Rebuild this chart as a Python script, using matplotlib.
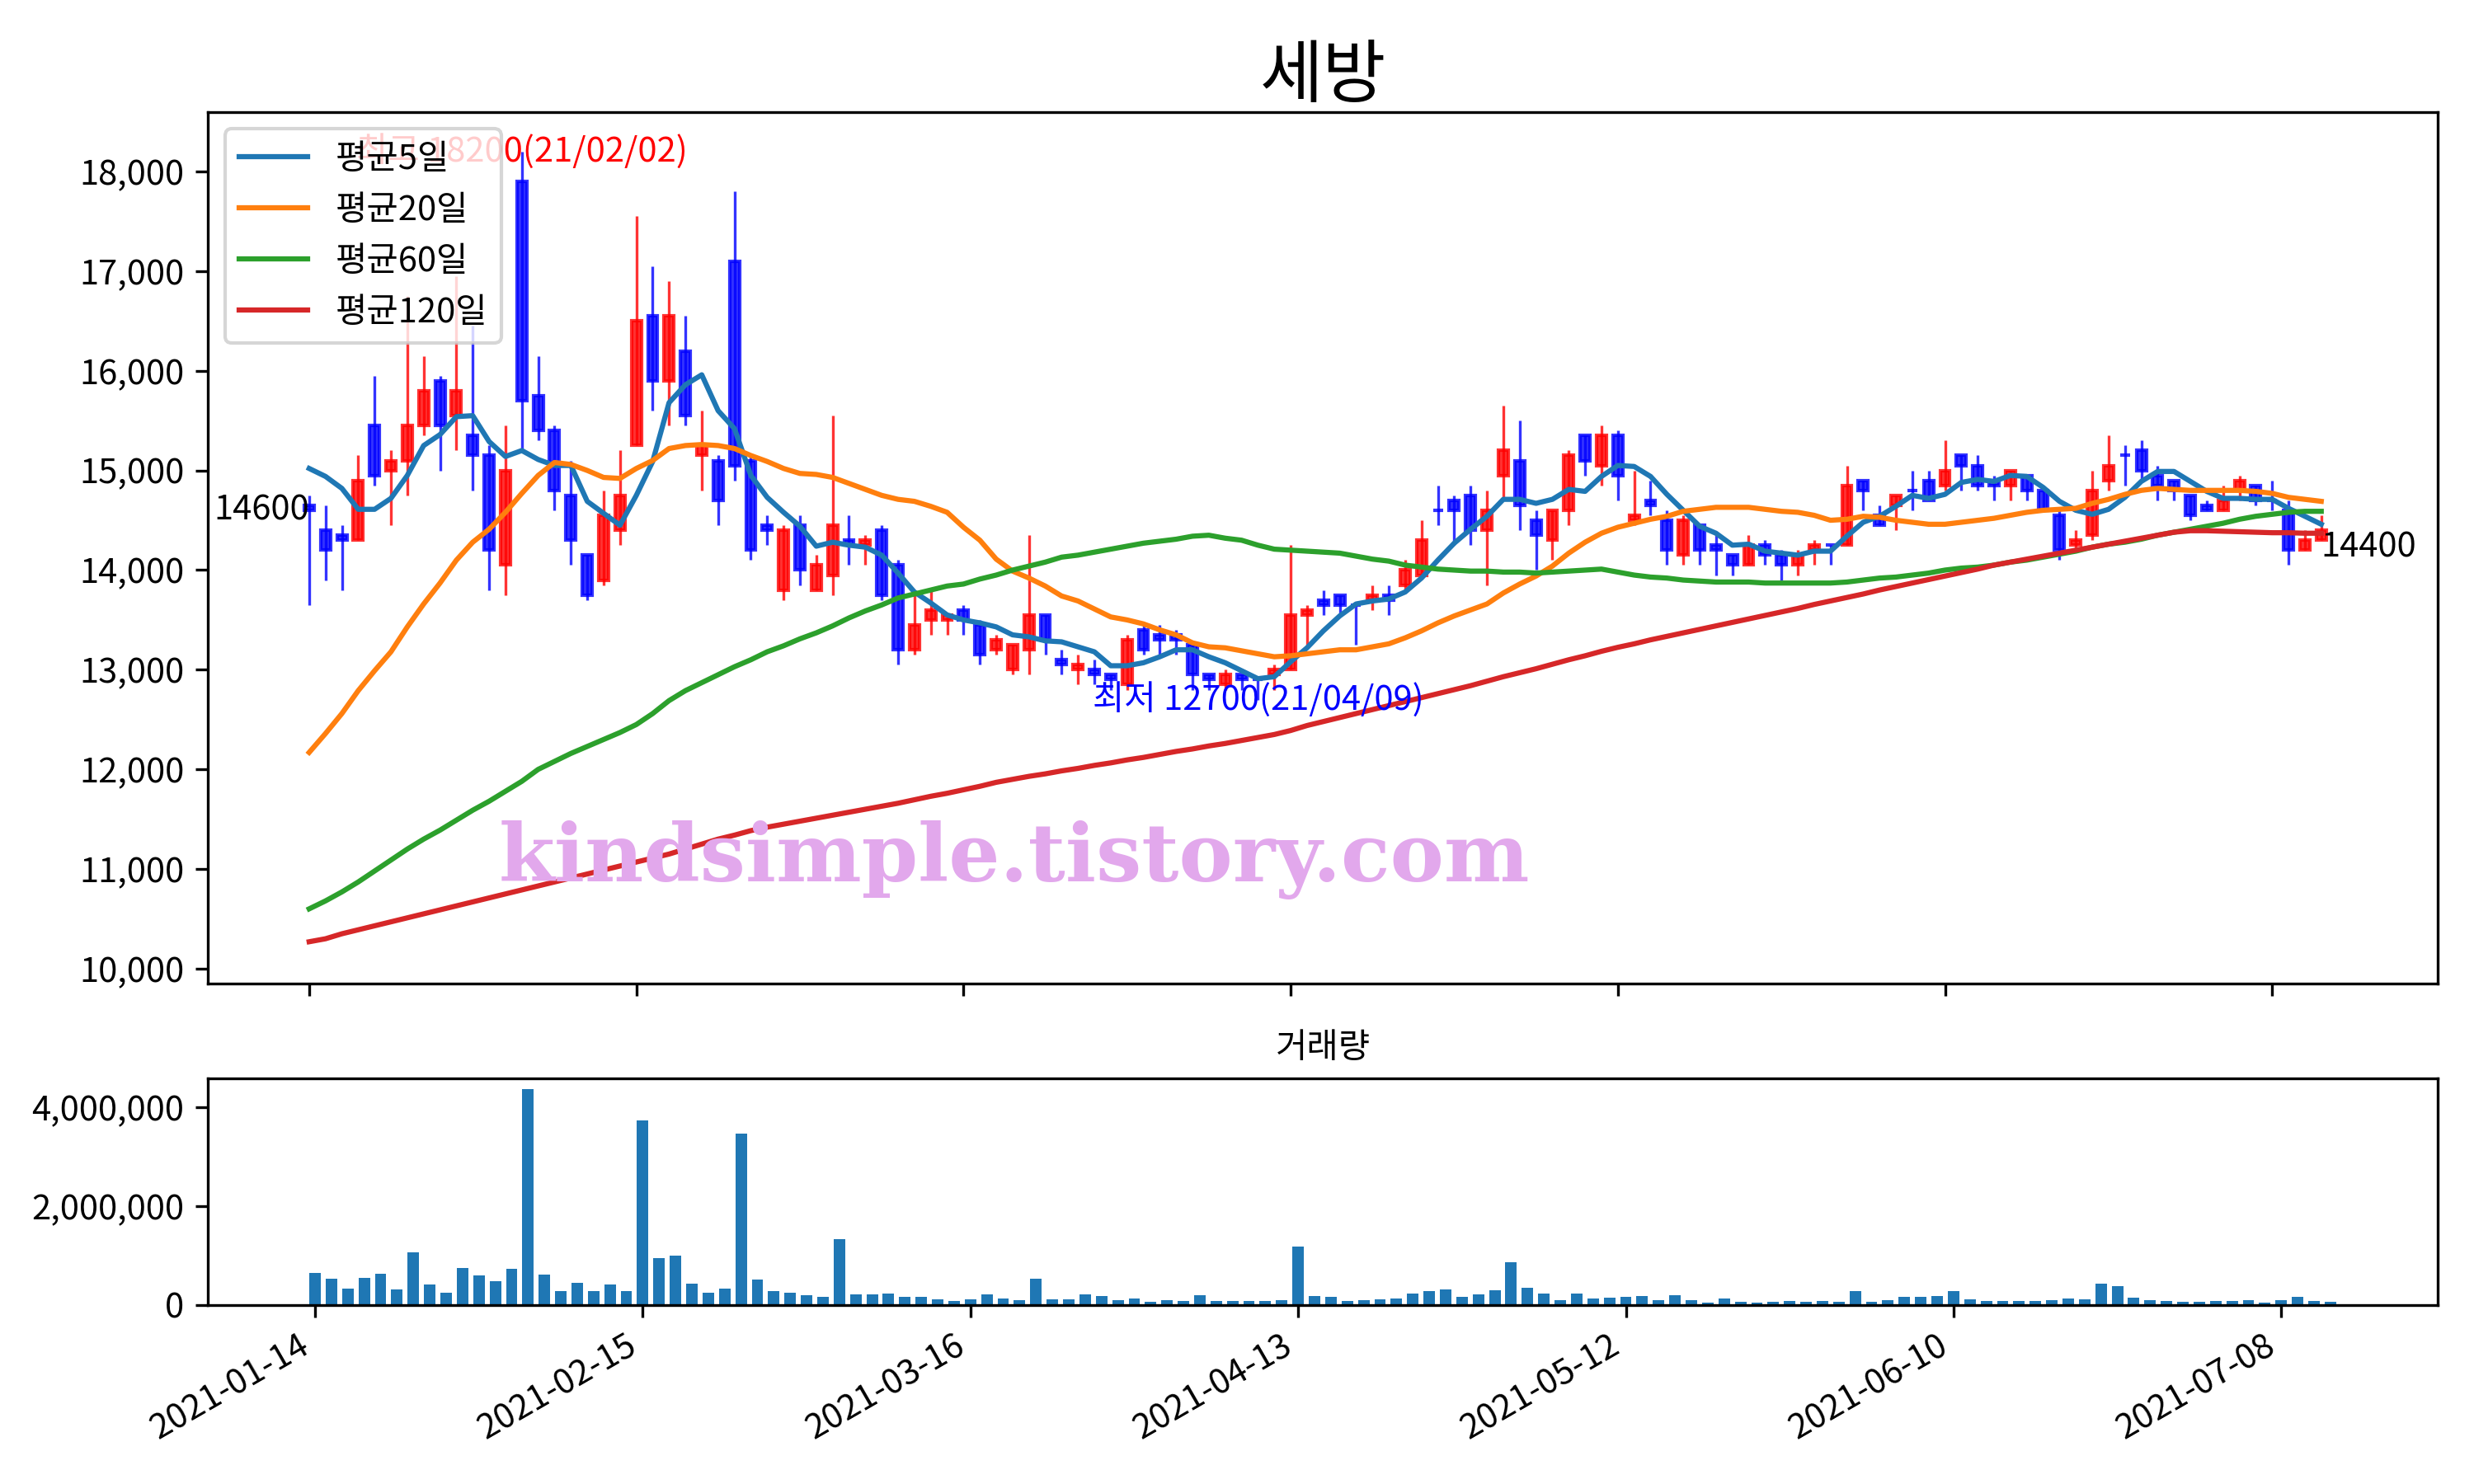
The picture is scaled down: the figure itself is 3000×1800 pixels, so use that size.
import numpy as np
import pandas as pd
import matplotlib
matplotlib.use("Agg")
import matplotlib.pyplot as plt
from matplotlib.ticker import FuncFormatter

plt.rcParams['font.family'] = ['Noto Sans CJK KR', 'DejaVu Sans']
plt.rcParams['axes.unicode_minus'] = False

title = "세방"
start_date = "2021-01-14"
end_date = "2021-07-13"
holidays = ["2021-02-11", "2021-02-12", "2021-03-01", "2021-05-05", "2021-05-19"]

# daily prices
opens = [14650, 14400, 14350, 14300, 15450, 15000, 15100, 15450, 15900, 15550,
         15350, 15150, 14050, 17900, 15750, 15400, 14750, 14150, 13900, 14400,
         15250, 16550, 15900, 16200, 15150, 15100, 17100, 15100, 14450, 13800,
         14450, 13800, 13950, 14300, 14250, 14400, 14050, 13200, 13500, 13500,
         13600, 13450, 13200, 13000, 13200, 13550, 13100, 13000, 13000, 12950,
         12850, 13400, 13350, 13350, 13250, 12950, 12850, 12950, 12900, 12950,
         13000, 13550, 13700, 13750, 13650, 13700, 13750, 13850, 13950, 14600,
         14700, 14750, 14400, 14950, 15100, 14500, 14300, 14600, 15350, 15050,
         15350, 14500, 14700, 14500, 14150, 14450, 14250, 14150, 14050, 14250,
         14150, 14050, 14200, 14250, 14250, 14900, 14550, 14650, 14800, 14900,
         14850, 15150, 15050, 14900, 14850, 14950, 14800, 14550, 14250, 14350,
         14900, 15150, 15200, 14950, 14900, 14750, 14650, 14600, 14800, 14850,
         14700, 14600, 14200, 14300]
highs = [14750, 14650, 14450, 15150, 15950, 15200, 16750, 16150, 15950, 16950,
         16450, 15250, 15450, 18200, 16150, 15450, 15100, 14150, 14800, 15200,
         17550, 17050, 16900, 16550, 15600, 15150, 17800, 15150, 14550, 14450,
         14550, 14150, 15550, 14550, 14350, 14450, 14100, 13800, 13800, 13550,
         13650, 13500, 13350, 13250, 14350, 13550, 13200, 13150, 13100, 12950,
         13350, 13450, 13450, 13400, 13250, 12950, 13000, 12950, 12900, 13050,
         14250, 13650, 13800, 13750, 13650, 13850, 13850, 14100, 14500, 14850,
         14750, 14850, 14800, 15650, 15500, 14600, 14600, 15200, 15350, 15450,
         15400, 15000, 14900, 14600, 14550, 14450, 14350, 14150, 14350, 14300,
         14200, 14200, 14300, 14250, 15050, 14900, 14650, 14750, 15000, 15000,
         15300, 15150, 15150, 14950, 15000, 14950, 14800, 14600, 14400, 15000,
         15350, 15250, 15300, 15050, 14900, 14750, 14700, 14850, 14950, 14850,
         14900, 14700, 14400, 14550]
lows = [13650, 13900, 13800, 14300, 14850, 14450, 14750, 15350, 15000, 15200,
        14800, 13800, 13750, 15200, 15300, 14600, 14050, 13700, 13850, 14250,
        15250, 15600, 15450, 15450, 14800, 14450, 14900, 14100, 14250, 13700,
        13850, 13800, 13750, 14050, 14050, 13700, 13050, 13150, 13350, 13350,
        13350, 13050, 13150, 12950, 12950, 13150, 12950, 12850, 12850, 12800,
        12800, 13150, 13150, 13150, 12800, 12800, 12800, 12800, 12700, 12800,
        13000, 13250, 13550, 13550, 13250, 13600, 13550, 13800, 13950, 14450,
        14250, 14250, 13850, 14700, 14400, 14000, 14100, 14450, 14950, 14850,
        14700, 14450, 14550, 14050, 14050, 14050, 13950, 13950, 14050, 14050,
        13900, 13950, 14050, 14050, 14250, 14600, 14450, 14400, 14600, 14700,
        14800, 14800, 14800, 14700, 14700, 14700, 14600, 14100, 14200, 14300,
        14800, 14850, 14900, 14700, 14700, 14500, 14600, 14600, 14700, 14650,
        14600, 14050, 14200, 14300]
closes = [14600, 14200, 14300, 14900, 14950, 15100, 15450, 15800, 15450, 15800,
          15150, 14200, 15000, 15700, 15400, 14800, 14300, 13750, 14550, 14750,
          16500, 15900, 16550, 15550, 15250, 14700, 15050, 14200, 14400, 14400,
          14000, 14050, 14450, 14250, 14300, 13750, 13200, 13450, 13600, 13550,
          13500, 13150, 13300, 13250, 13550, 13300, 13050, 13050, 12950, 12900,
          13300, 13200, 13300, 13300, 12950, 12900, 12950, 12900, 12900, 13000,
          13550, 13600, 13650, 13650, 13650, 13750, 13700, 14000, 14300, 14600,
          14600, 14400, 14600, 15200, 14650, 14350, 14600, 15150, 15100, 15350,
          14950, 14550, 14650, 14200, 14500, 14200, 14200, 14050, 14250, 14150,
          14050, 14150, 14250, 14250, 14850, 14800, 14450, 14750, 14800, 14700,
          15000, 15050, 14850, 14850, 15000, 14800, 14600, 14200, 14300, 14800,
          15050, 15150, 15000, 14850, 14800, 14550, 14600, 14700, 14900, 14700,
          14700, 14200, 14300, 14400]
volumes = [650000, 530000, 330000, 550000, 630000, 310000, 1060000, 410000, 245000, 750000,
           600000, 480000, 730000, 4370000, 610000, 280000, 450000, 280000, 410000, 280000,
           3740000, 950000, 1000000, 430000, 245000, 330000, 3470000, 510000, 280000, 245000,
           195000, 160000, 1340000, 210000, 210000, 230000, 160000, 160000, 110000, 80000,
           110000, 210000, 130000, 95000, 530000, 110000, 110000, 210000, 180000, 95000,
           130000, 60000, 95000, 80000, 195000, 80000, 80000, 80000, 80000, 95000,
           1180000, 180000, 160000, 80000, 95000, 110000, 130000, 230000, 280000, 310000,
           160000, 210000, 295000, 860000, 345000, 230000, 95000, 230000, 130000, 145000,
           160000, 180000, 95000, 195000, 95000, 45000, 130000, 60000, 45000, 60000,
           80000, 60000, 80000, 60000, 280000, 60000, 95000, 160000, 160000, 180000,
           280000, 110000, 80000, 80000, 80000, 80000, 95000, 130000, 110000, 430000,
           380000, 145000, 95000, 80000, 60000, 60000, 80000, 80000, 95000, 45000,
           95000, 160000, 80000, 60000]

# moving averages as drawn
ma5 = [15020, 14940, 14820, 14610, 14610, 14720, 14950, 15250, 15360, 15540,
       15550, 15290, 15140, 15200, 15110, 15050, 15050, 14690, 14570, 14450,
       14750, 15090, 15680, 15860, 15960, 15600, 15420, 14950, 14730, 14580,
       14440, 14240, 14280, 14250, 14230, 14150, 13970, 13780, 13670, 13550,
       13500, 13470, 13430, 13350, 13330, 13290, 13280, 13230, 13180, 13040,
       13040, 13070, 13130, 13200, 13200, 13130, 13070, 12990, 12910, 12930,
       13080, 13220, 13390, 13540, 13660, 13690, 13710, 13780, 13920, 14100,
       14270, 14410, 14540, 14710, 14710, 14670, 14710, 14810, 14790, 14940,
       15050, 15040, 14940, 14760, 14600, 14440, 14370, 14250, 14260, 14190,
       14170, 14150, 14190, 14190, 14340, 14480, 14540, 14640, 14750, 14720,
       14760, 14880, 14910, 14890, 14950, 14940, 14830, 14690, 14600, 14560,
       14610, 14730, 14890, 14990, 14990, 14890, 14790, 14720, 14720, 14710,
       14710, 14620, 14540, 14460]
ma20 = [12170, 12360, 12560, 12790, 12990, 13180, 13430, 13660, 13870, 14100,
        14280, 14410, 14580, 14770, 14950, 15080, 15060, 15000, 14930, 14920,
        15020, 15100, 15220, 15250, 15260, 15250, 15220, 15150, 15090, 15020,
        14970, 14960, 14930, 14870, 14810, 14750, 14710, 14690, 14640, 14580,
        14430, 14300, 14110, 13990, 13920, 13840, 13740, 13690, 13610, 13530,
        13500, 13460, 13400, 13350, 13270, 13230, 13220, 13190, 13160, 13130,
        13140, 13160, 13180, 13200, 13200, 13230, 13260, 13320, 13390, 13470,
        13540, 13600, 13660, 13770, 13860, 13940, 14040, 14170, 14280, 14370,
        14430, 14470, 14510, 14540, 14590, 14610, 14630, 14630, 14630, 14610,
        14590, 14580, 14550, 14500, 14510, 14540, 14530, 14500, 14480, 14460,
        14460, 14480, 14500, 14520, 14550, 14580, 14600, 14610, 14620, 14670,
        14710, 14760, 14800, 14820, 14810, 14800, 14800, 14800, 14800, 14790,
        14770, 14730, 14710, 14690]
ma60 = [10600, 10680, 10770, 10870, 10980, 11090, 11200, 11300, 11390, 11490,
        11590, 11680, 11780, 11880, 12000, 12080, 12160, 12230, 12300, 12370,
        12450, 12560, 12690, 12790, 12870, 12950, 13030, 13100, 13180, 13240,
        13310, 13370, 13440, 13520, 13590, 13650, 13720, 13760, 13800, 13840,
        13860, 13910, 13950, 14000, 14040, 14080, 14130, 14150, 14180, 14210,
        14240, 14270, 14290, 14310, 14340, 14350, 14320, 14300, 14250, 14210,
        14200, 14190, 14180, 14170, 14140, 14110, 14090, 14050, 14030, 14010,
        14000, 13990, 13990, 13980, 13980, 13970, 13980, 13990, 14000, 14010,
        13980, 13950, 13930, 13920, 13900, 13890, 13880, 13880, 13880, 13870,
        13870, 13870, 13870, 13870, 13880, 13900, 13920, 13930, 13950, 13970,
        14000, 14020, 14030, 14050, 14080, 14100, 14130, 14160, 14190, 14230,
        14260, 14280, 14310, 14350, 14380, 14410, 14440, 14470, 14510, 14540,
        14560, 14580, 14590, 14590]
ma120 = [10270, 10300, 10350, 10390, 10430, 10470, 10510, 10550, 10590, 10630,
         10670, 10710, 10750, 10790, 10830, 10870, 10910, 10950, 10990, 11030,
         11070, 11110, 11150, 11200, 11250, 11300, 11340, 11385, 11420, 11450,
         11480, 11510, 11540, 11570, 11600, 11630, 11660, 11695, 11730, 11760,
         11795, 11830, 11870, 11900, 11930, 11955, 11985, 12010, 12040, 12065,
         12095, 12120, 12150, 12180, 12205, 12235, 12260, 12290, 12320, 12350,
         12390, 12440, 12480, 12520, 12560, 12600, 12640, 12680, 12720, 12760,
         12800, 12840, 12885, 12930, 12970, 13010, 13055, 13100, 13140, 13185,
         13225, 13260, 13300, 13335, 13370, 13405, 13440, 13475, 13510, 13545,
         13580, 13615, 13655, 13690, 13725, 13760, 13800, 13835, 13870, 13905,
         13940, 13975, 14010, 14050, 14080, 14110, 14140, 14170, 14200, 14230,
         14260, 14290, 14320, 14350, 14380, 14395, 14395, 14390, 14385, 14380,
         14375, 14375, 14370, 14370]

dates = pd.bdate_range(start_date, end_date, freq="C", holidays=holidays)

o = np.array(opens)
h = np.array(highs)
l = np.array(lows)
c = np.array(closes)
x = np.arange(len(c))
colors = np.where(c > o, "r", "b")

fig = plt.figure(figsize=(10, 6), dpi=300)
ax = fig.add_axes([0.0841, 0.3372, 0.9011, 0.5875])
axv = fig.add_axes([0.0841, 0.1206, 0.9011, 0.1527])

# candles
ax.vlines(x, l, h, colors=colors, linewidth=0.8, alpha=0.8)
ax.bar(x, np.abs(c - o), bottom=np.minimum(o, c), width=0.6, color=colors,
       edgecolor=colors, linewidth=1.0, alpha=0.8)

ax.plot(x, ma5, label="평균5일")
ax.plot(x, ma20, label="평균20일")
ax.plot(x, ma60, label="평균60일")
ax.plot(x, ma120, label="평균120일")
ax.legend(loc="upper left")

# first / last close, high / low marks
ax.text(x[0], c[0], f"{c[0]}", ha="right", va="center")
ax.text(x[-1], c[-1], f"{c[-1]}", ha="left", va="top")
ih = int(np.argmax(h))
il = int(np.argmin(l))
ax.text(ih, h[ih], f"최고 {h[ih]}({dates[ih]:%y/%m/%d})", color="r", ha="center", va="center")
ax.text(il, l[il], f"최저 {l[il]}({dates[il]:%y/%m/%d})", color="b", ha="center", va="center")

ticks = list(range(0, len(x), 20))
ax.set_xticks(ticks)
ax.set_xticklabels([])
ax.set_xlim(-6.18, 130.1)
ax.set_ylim(9850, 18600)
ax.yaxis.set_major_formatter(FuncFormatter(lambda v, p: f"{v:,.0f}"))
ax.set_title(title, fontsize=20, pad=3.5)

# volume
axv.bar(x, volumes, width=0.7, color="C0")
axv.set_xticks(ticks)
axv.set_xticklabels([dates[i].strftime("%Y-%m-%d") for i in ticks], rotation=30, ha="right")
axv.set_xlim(-6.53, 129.53)
axv.set_ylim(0, 4.583e6)
axv.yaxis.set_major_formatter(FuncFormatter(lambda v, p: f"{v:,.0f}"))
axv.set_title("거래량", fontsize=10, pad=6)

fig.text(0.41, 0.406, "kindsimple.tistory.com", fontsize=23.5, fontweight="bold",
         family="DejaVu Serif", color="#e2a8ec", ha="center", va="baseline")

fig.savefig("out.png", dpi=300)
